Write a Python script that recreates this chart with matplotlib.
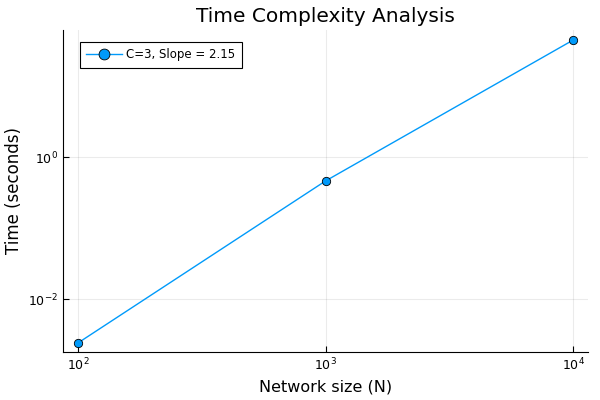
import numpy as np
import matplotlib.pyplot as plt

# datos
sizes = [100, 1000, 10000]
times = [0.0024, 0.46, 44.4]
label = "C=3, Slope = 2.15"

fig = plt.figure(figsize=(6, 4), dpi=100)
ax = fig.add_axes([0.105, 0.12, 0.875, 0.805])

ax.plot(sizes, times, color='#009AFA', lw=1.0, marker='o', ms=6,
        markeredgecolor='black', markeredgewidth=0.6, label=label)
ax.set_xscale('log')
ax.set_yscale('log')
ax.set_xlim(10**1.94, 10**4.06)
ax.set_ylim(10**-2.746, 10**1.789)
ax.set_xticks([1e2, 1e3, 1e4])
ax.set_yticks([1e-2, 1e0])
ax.minorticks_off()
ax.tick_params(direction='in', length=4, labelsize=9, colors='black')
ax.grid(True, color='black', alpha=0.08, lw=0.8)
for s in ['top', 'right']:
    ax.spines[s].set_visible(False)

ax.set_xlabel("Network size (N)", fontsize=11.5)
ax.set_ylabel("Time (seconds)", fontsize=12)
ax.set_title("Time Complexity Analysis", fontsize=14.5)

leg = ax.legend(loc='upper left', bbox_to_anchor=(0.032, 0.963), borderaxespad=0,
                fontsize=8.5, fancybox=False, framealpha=1, edgecolor='black',
                handlelength=3.0, handletextpad=0.4, markerscale=1.3, borderpad=0.55)
leg.get_frame().set_linewidth(0.8)

fig.savefig('out.png', dpi=100)
